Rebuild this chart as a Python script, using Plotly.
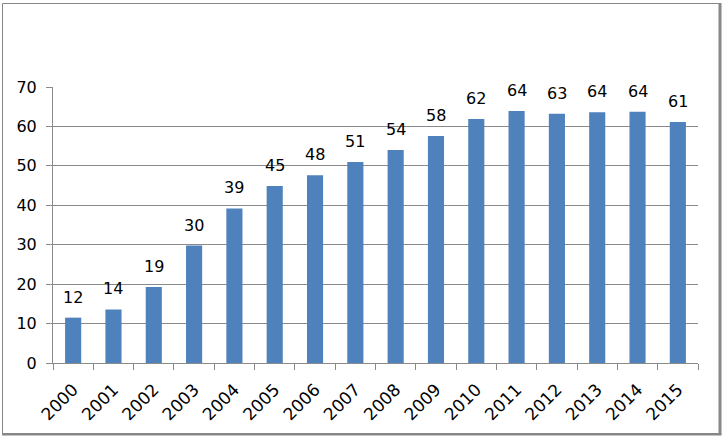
import plotly.graph_objects as go

years = ["2000", "2001", "2002", "2003", "2004", "2005", "2006", "2007",
         "2008", "2009", "2010", "2011", "2012", "2013", "2014", "2015"]
values = [11.5, 13.6, 19.3, 29.8, 39.2, 44.9, 47.6, 51.0,
          54.0, 57.6, 61.9, 63.9, 63.2, 63.6, 63.7, 61.1]
y_ticks = [0, 10, 20, 30, 40, 50, 60, 70]

W, H = 724, 438
ML, MR, MT, MB = 53, 26, 87, 75
PW, PH = W - ML - MR, H - MT - MB

def px(x):
    return (x - ML) / PW

def py(y):
    return (H - MB - y) / PH

BAR = "#4F81BD"
GRID = "#8a8a8a"
FONT = "DejaVu Sans"
FS = 16

fig = go.Figure()
fig.add_trace(go.Bar(x=years, y=values, marker=dict(color=BAR, line=dict(width=0)),
                     hoverinfo="skip"))

for i, v in enumerate(values):
    fig.add_annotation(x=i, y=v, text=f"{v:.0f}", showarrow=False,
                       yanchor="bottom", yshift=9,
                       font=dict(family=FONT, size=FS, color="#000000"))

shapes = [
    dict(type="rect", xref="paper", yref="paper",
         x0=px(2.5), x1=px(719.5), y0=py(433.5), y1=py(3.5),
         line=dict(color="#878787", width=1), layer="above"),
    dict(type="line", xref="paper", yref="paper",
         x0=px(720), x1=px(720), y0=py(434.5), y1=py(3),
         line=dict(color="#878787", width=3)),
    dict(type="line", xref="paper", yref="paper",
         x0=px(2), x1=px(721.5), y0=py(434.5), y1=py(434.5),
         line=dict(color="#878787", width=2)),
]

fig.update_layout(
    width=W, height=H,
    margin=dict(l=ML, r=MR, t=MT, b=MB, pad=0, autoexpand=False),
    paper_bgcolor="white", plot_bgcolor="white",
    bargap=0.6, showlegend=False,
    font=dict(family=FONT, size=FS, color="#000000"),
    shapes=shapes,
    xaxis=dict(type="category", tickangle=-45, ticks="outside", ticklen=6,
               tickcolor=GRID, tickson="boundaries", showline=True,
               linecolor=GRID, linewidth=1, showgrid=False,
               ticklabelstandoff=9,
               tickfont=dict(family=FONT, size=17)),
    yaxis=dict(range=[0, 70], tickvals=y_ticks, ticktext=[str(t) for t in y_ticks],
               ticks="outside", ticklen=6, tickcolor=GRID, showline=True,
               linecolor=GRID, linewidth=1, showgrid=True, gridcolor=GRID,
               gridwidth=1, zeroline=False, ticklabelstandoff=6,
               tickfont=dict(family=FONT, size=FS)),
)

fig.write_html("out.html", config={"displayModeBar": False},
               post_script="document.body.style.margin='0';document.body.style.overflow='hidden';")
